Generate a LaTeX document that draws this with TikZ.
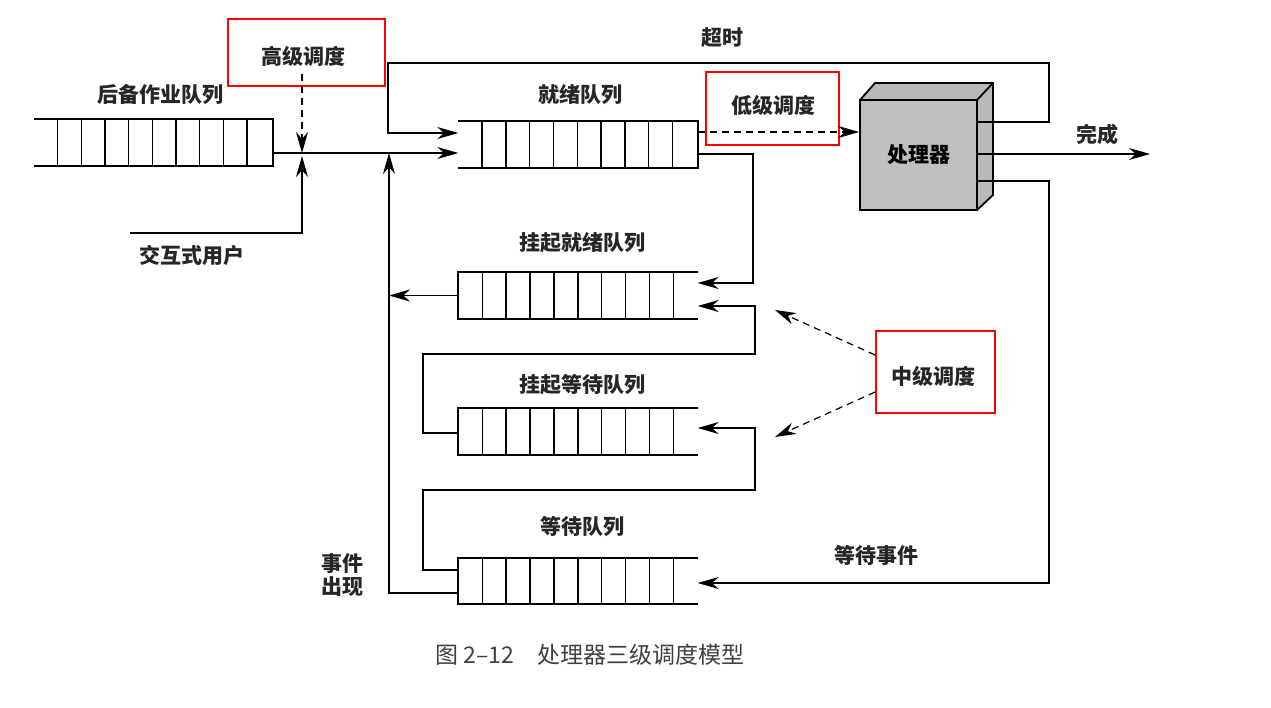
\documentclass[tikz,border=0pt]{standalone}
\usepackage{fontspec}
\newfontfamily\cjk{Noto Sans CJK SC}
\usetikzlibrary{arrows.meta}
\begin{document}
\begin{tikzpicture}[x=1pt,y=-1pt,line width=1.4pt,
  lbl/.style={font=\cjk\bfseries\fontsize{21}{23}\selectfont,inner sep=0pt,text=black!85},
  red box/.style={draw=red,line width=1.8pt,minimum width=#1,inner sep=0pt},
  qline/.style={line width=2.2pt},
  arr/.style={-{Stealth[length=14pt,width=8pt,scale=1.5]}},
  darr/.style={arr,dashed,dash pattern=on 7pt off 5pt},
  qnode/.style={minimum width=238pt,minimum height=45pt,inner sep=0pt}]
\useasboundingbox (0,0) rectangle (1271,707);
\fill[white] (0,0) rectangle (1271,707);
% queues (nodes)
\node[qnode] (bq) at (153.5,142.5) {};
\node[qnode] (rq) at (578,144.5) {};
\node[qnode] (sr) at (578,295.5) {};
\node[qnode] (sw) at (578,431.5) {};
\node[qnode] (wq) at (578,581) {};
% backup queue: open left, closed right
\draw[qline] (bq.north west) -- (bq.north east) -- (bq.south east) -- (bq.south west);
\foreach \i in {1,...,9} \draw ([xshift=\i*23.7pt]bq.north west) -- ([xshift=\i*23.7pt]bq.south west);
% ready queue: open left, closed right
\draw[qline] (rq.north west) -- (rq.north east) -- (rq.south east) -- (rq.south west);
\foreach \i in {1,...,9} \draw ([xshift=\i*23.8pt]rq.north west) -- ([xshift=\i*23.8pt]rq.south west);
% lower queues: closed left, open right
\foreach \q in {sr,sw,wq}{
  \draw[qline] (\q.north east) -- (\q.north west) -- (\q.south west) -- (\q.south east);
  \foreach \i in {1,...,9} \draw ([xshift=\i*23.9pt]\q.north west) -- ([xshift=\i*23.9pt]\q.south west);
}
% labels
\node[lbl] (lbq) at (160,95) {后备作业队列};
\node[lbl] (lrq) at (580,95) {就绪队列};
\node[lbl] (lsr) at (582,243) {挂起就绪队列};
\node[lbl] (lsw) at (582,385) {挂起等待队列};
\node[lbl] (lwq) at (582,527) {等待队列};
\node[lbl] (liu) at (192,255) {交互式用户};
\node[lbl] (lto) at (722,38) {超时};
\node[lbl] (lfin) at (1097,134) {完成};
\node[lbl] (lwe) at (876,555) {等待事件};
\node[lbl,align=center] (lev) at (342,575) {事件\\[0pt]出现};
\node[font=\cjk\fontsize{23}{25}\selectfont,text=black!75] (cap) at (590,655) {图 2–12\quad 处理器三级调度模型};
% processor
\fill[gray!55] (860,100) -- (875,83) -- (993,83) -- (993,195) -- (977,210) -- (860,210) -- cycle;
\draw[line width=1.8pt] (860,100) -- (875,83) -- (993,83) -- (993,195) -- (977,210) (977,100) -- (993,83);
\node[draw,line width=1.8pt,fill=gray!50,minimum width=117pt,minimum height=110pt,inner sep=0pt,
  font=\cjk\bfseries\fontsize{21}{23}\selectfont] (cpu) at (918.5,155) {处理器};
% red boxes
\node[red box=157pt,minimum height=67pt] (hs) at (306.5,52.5) {};
\node[lbl] (hst) at (303,56) {高级调度};
\node[red box=133pt,minimum height=73pt] (ls) at (772.5,108.5) {};
\node[lbl] (lst) at (773,105) {低级调度};
\node[red box=119pt,minimum height=82pt] (ms) at (935.5,372) {};
\node[lbl] (mst) at (933,376) {中级调度};
% coordinates
\coordinate (j1) at (302,153);
\coordinate (j2) at (389,153);
% high-level scheduling flows
\draw[darr] (302,74) -- (j1);
\draw (bq.east |- j1) -- (j1);
\draw[arr] (j1) -- (rq.west |- j1);
\draw[arr] (130,233) -- (302,233) -- (302,156);
% timeout loop
\draw[arr] (cpu.east |- 0,122) -- (1049,122) -- (1049,63) -- (388,63) -- (388,133) -- (rq.west |- 0,133);
% low-level scheduling
\draw[darr] (rq.east |- 0,132) -- (cpu.west |- 0,132);
% complete
\draw[arr] (cpu.east |- 0,154) -- (1150,154);
% wait event
\draw[arr] (cpu.east |- 0,181) -- (1049,181) -- (1049,583) -- (wq.east |- 0,583);
% event occurs
\draw[arr] (wq.west |- 0,593) -- (389,593) -- (j2);
\draw[arr] (sr.west) -- (389,295.5);
% ready -> suspended ready
\draw[arr] (rq.east |- 0,154) -- (753,154) -- (753,283) -- (sr.east |- 0,283);
% suspended wait -> suspended ready
\draw[arr] (sw.west |- 0,433) -- (423,433) -- (423,354) -- (755,354) -- (755,306) -- (sr.east |- 0,306);
% wait -> suspended wait
\draw[arr] (wq.west |- 0,570) -- (423,570) -- (423,490) -- (755,490) -- (755,428) -- (sw.east |- 0,428);
% middle scheduling
\draw[darr,line width=1.2pt] (ms.west |- 0,355) -- (775,310);
\draw[darr,line width=1.2pt] (ms.west |- 0,392) -- (775,437);
\end{tikzpicture}
\end{document}
